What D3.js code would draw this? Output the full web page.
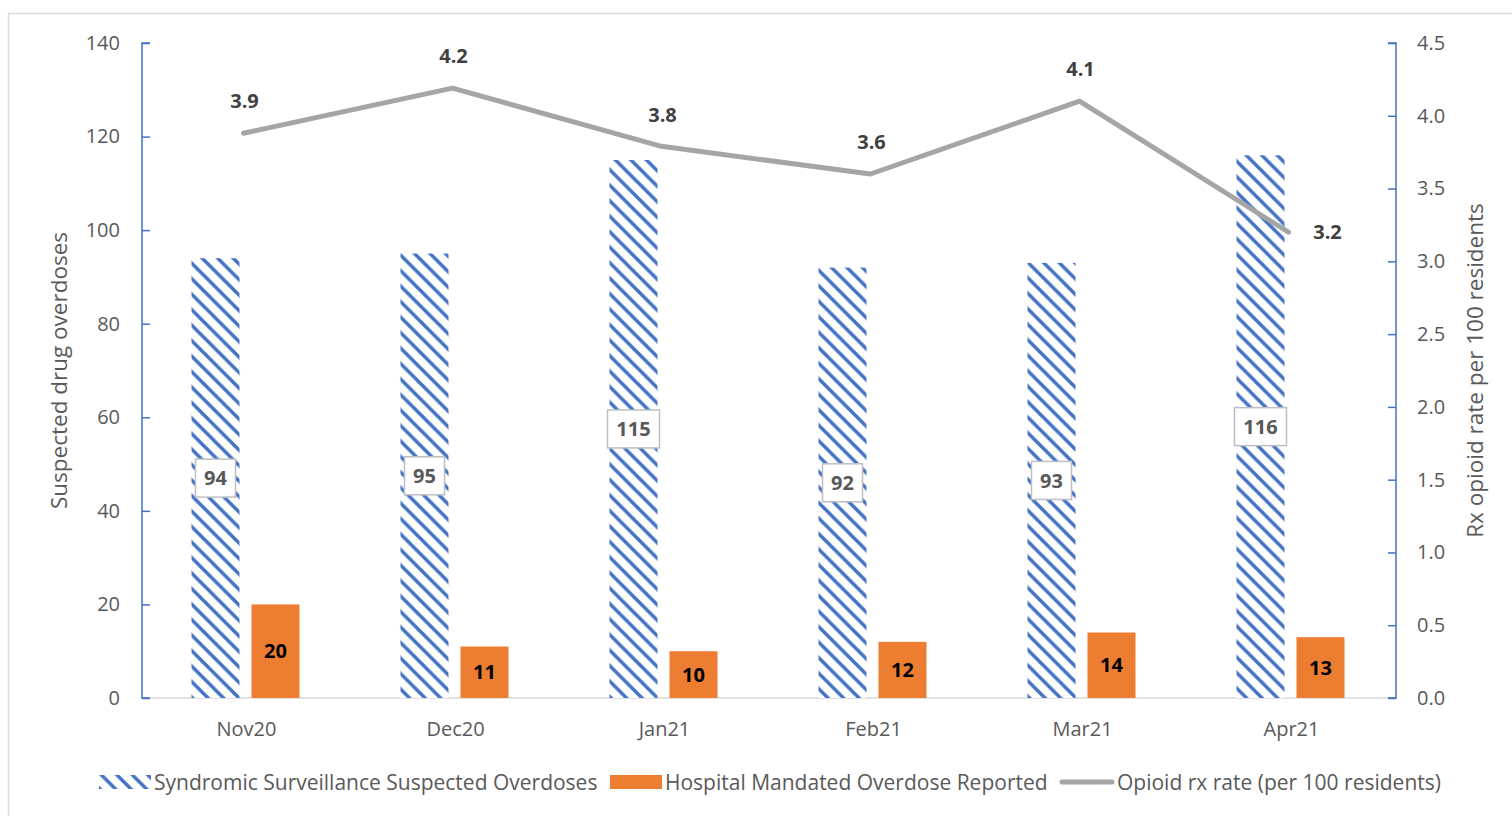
<!DOCTYPE html>
<html>
<head>
<meta charset="utf-8">
<script src="https://cdn.jsdelivr.net/npm/d3@7"></script>
<style>
  body { margin: 0; background: #fff; }
  svg { font-family: "Open Sans", "Noto Sans", sans-serif; }
</style>
</head>
<body>
<svg id="chart" width="1512" height="816"></svg>
<script>
// data
const months = ["Nov20", "Dec20", "Jan21", "Feb21", "Mar21", "Apr21"];
const syndromic = [94, 95, 115, 92, 93, 116];
const hospital = [20, 11, 10, 12, 14, 13];
const rxRate = [3.88, 4.19, 3.79, 3.6, 4.1, 3.2];
const leftTicks = [0, 20, 40, 60, 80, 100, 120, 140];
const rightTicks = [0, 0.5, 1, 1.5, 2, 2.5, 3, 3.5, 4, 4.5];

const blue = "#4472C4", orange = "#ED7D31", grey = "#A5A5A5";
const margin = {top: 43, bottom: 118, left: 142, right: 116};

const svg = d3.select("#chart");
const width = 1512, height = 816;
const innerW = width - margin.left - margin.right;
const innerH = height - margin.top - margin.bottom;

// chart frame
svg.append("rect")
    .attr("x", 8.5).attr("y", 13.5)
    .attr("width", 1520).attr("height", 820)
    .attr("fill", "none").attr("stroke", "#d9d9d9").attr("stroke-width", 1.5);

// hatch pattern for syndromic bars
const defs = svg.append("defs");
const pat = defs.append("pattern")
    .attr("id", "hatch")
    .attr("patternUnits", "userSpaceOnUse")
    .attr("width", 15.5).attr("height", 15.5);
pat.append("rect").attr("width", 15.5).attr("height", 15.5).attr("fill", "#fff");
pat.append("path")
    .attr("d", "M-4,-4 L19.5,19.5 M-4,11.5 L4,19.5 M11.5,-4 L19.5,4")
    .attr("stroke", blue).attr("stroke-width", 3.5);

const g = svg.append("g").attr("transform", `translate(${margin.left},${margin.top})`);

const x = d3.scaleBand().domain(months).range([0, innerW]);
const yL = d3.scaleLinear().domain([0, 140]).range([innerH, 0]);
const yR = d3.scaleLinear().domain([0, 4.5]).range([innerH, 0]);

const barW = 48, gap = 12;
const mid = d => x(d) + x.bandwidth() / 2 - 1;

// x axis line
g.append("line")
    .attr("x1", 0).attr("x2", innerW)
    .attr("y1", innerH).attr("y2", innerH)
    .attr("stroke", "#d9d9d9").attr("stroke-width", 1.5);

// bars
g.selectAll(".syn")
    .data(months)
    .join("rect")
    .attr("class", "syn")
    .attr("x", d => mid(d) - barW - gap / 2)
    .attr("y", (d, i) => yL(syndromic[i]))
    .attr("width", barW)
    .attr("height", (d, i) => innerH - yL(syndromic[i]))
    .attr("fill", "url(#hatch)");

g.selectAll(".hosp")
    .data(months)
    .join("rect")
    .attr("class", "hosp")
    .attr("x", d => mid(d) + gap / 2)
    .attr("y", (d, i) => yL(hospital[i]))
    .attr("width", barW)
    .attr("height", (d, i) => innerH - yL(hospital[i]))
    .attr("fill", orange);

// left axis
const axL = g.append("g")
    .call(d3.axisLeft(yL).tickValues(leftTicks).tickSize(-8).tickPadding(22));
axL.selectAll("path, line").attr("stroke", blue).attr("stroke-width", 1.5);
axL.select(".domain").attr("d", `M8,0H0V${innerH}H8`);
axL.selectAll("text").attr("fill", "#595959").style("font-size", "20px")
    .style("font-family", "'Open Sans', sans-serif");

// right axis
const axR = g.append("g")
    .attr("transform", `translate(${innerW},0)`)
    .call(d3.axisRight(yR).tickValues(rightTicks).tickSize(-8).tickPadding(21)
        .tickFormat(d3.format(".1f")));
axR.selectAll("path, line").attr("stroke", blue).attr("stroke-width", 1.5);
axR.select(".domain").attr("d", `M-8,0H0V${innerH}H-8`);
axR.selectAll("text").attr("fill", "#595959").style("font-size", "20px")
    .style("font-family", "'Open Sans', sans-serif");

// x labels
g.selectAll(".xlab")
    .data(months)
    .join("text")
    .attr("class", "xlab")
    .attr("x", d => mid(d) + 1)
    .attr("y", innerH + 38)
    .attr("text-anchor", "middle")
    .attr("fill", "#595959")
    .style("font-size", "20px")
    .text(d => d);

// axis titles
svg.append("text")
    .attr("transform", `translate(67,${margin.top + innerH / 2}) rotate(-90)`)
    .attr("text-anchor", "middle")
    .attr("fill", "#595959")
    .style("font-size", "22.5px")
    .text("Suspected drug overdoses");
svg.append("text")
    .attr("transform", `translate(1483,${margin.top + innerH / 2}) rotate(-90)`)
    .attr("text-anchor", "middle")
    .attr("fill", "#595959")
    .style("font-size", "22.5px")
    .text("Rx opioid rate per 100 residents");

// syndromic labels in boxes
const synLab = g.selectAll(".synlab")
    .data(months)
    .join("g")
    .attr("class", "synlab")
    .attr("transform", (d, i) => `translate(${mid(d) - barW / 2 - gap / 2},${(yL(syndromic[i]) + innerH) / 2})`);
synLab.append("rect")
    .attr("x", (d, i) => syndromic[i] >= 100 ? -26 : -20)
    .attr("width", (d, i) => syndromic[i] >= 100 ? 52 : 40)
    .attr("y", -19).attr("height", 38)
    .attr("fill", "#fff").attr("stroke", "#bfbfbf").attr("stroke-width", 1.5);
synLab.append("text")
    .attr("text-anchor", "middle")
    .attr("dy", "0.36em")
    .attr("fill", "#595959")
    .style("font-size", "20px").style("font-weight", "bold")
    .text((d, i) => syndromic[i]);

// hospital labels
g.selectAll(".hosplab")
    .data(months)
    .join("text")
    .attr("class", "hosplab")
    .attr("x", d => mid(d) + gap / 2 + barW / 2)
    .attr("y", (d, i) => (yL(hospital[i]) + innerH) / 2)
    .attr("dy", "0.36em")
    .attr("text-anchor", "middle")
    .attr("fill", "#000")
    .style("font-size", "20px").style("font-weight", "bold")
    .text((d, i) => hospital[i]);

// rx rate line
const line = d3.line()
    .x((d, i) => mid(months[i]) - 2)
    .y(d => yR(d));
g.append("path")
    .datum(rxRate)
    .attr("d", line)
    .attr("fill", "none")
    .attr("stroke", grey)
    .attr("stroke-width", 5)
    .attr("stroke-linejoin", "round")
    .attr("stroke-linecap", "round");

const last = rxRate.length - 1;
g.selectAll(".ratelab")
    .data(rxRate)
    .join("text")
    .attr("class", "ratelab")
    .attr("x", (d, i) => mid(months[i]) - 1 + (i === last ? 38 : 0))
    .attr("y", (d, i) => yR(d) + (i === last ? 0 : -32))
    .attr("dy", "0.36em")
    .attr("text-anchor", "middle")
    .attr("fill", "#404040")
    .style("font-size", "20px").style("font-weight", "bold")
    .text(d => d.toFixed(1));

// legend
const leg = svg.append("g").attr("transform", "translate(0,782)");
leg.append("rect").attr("x", 99).attr("y", -7).attr("width", 52).attr("height", 14)
    .attr("fill", "url(#hatch)");
leg.append("text").attr("x", 154).attr("dy", "0.36em").attr("fill", "#595959")
    .style("font-size", "21px").text("Syndromic Surveillance Suspected Overdoses");
leg.append("rect").attr("x", 610).attr("y", -7).attr("width", 52).attr("height", 14)
    .attr("fill", orange);
leg.append("text").attr("x", 665).attr("dy", "0.36em").attr("fill", "#595959")
    .style("font-size", "21px").text("Hospital Mandated Overdose Reported");
leg.append("line").attr("x1", 1062).attr("x2", 1112).attr("y1", 0).attr("y2", 0)
    .attr("stroke", grey).attr("stroke-width", 5).attr("stroke-linecap", "round");
leg.append("text").attr("x", 1117).attr("dy", "0.36em").attr("fill", "#595959")
    .style("font-size", "21px").text("Opioid rx rate (per 100 residents)");
</script>
</body>
</html>
